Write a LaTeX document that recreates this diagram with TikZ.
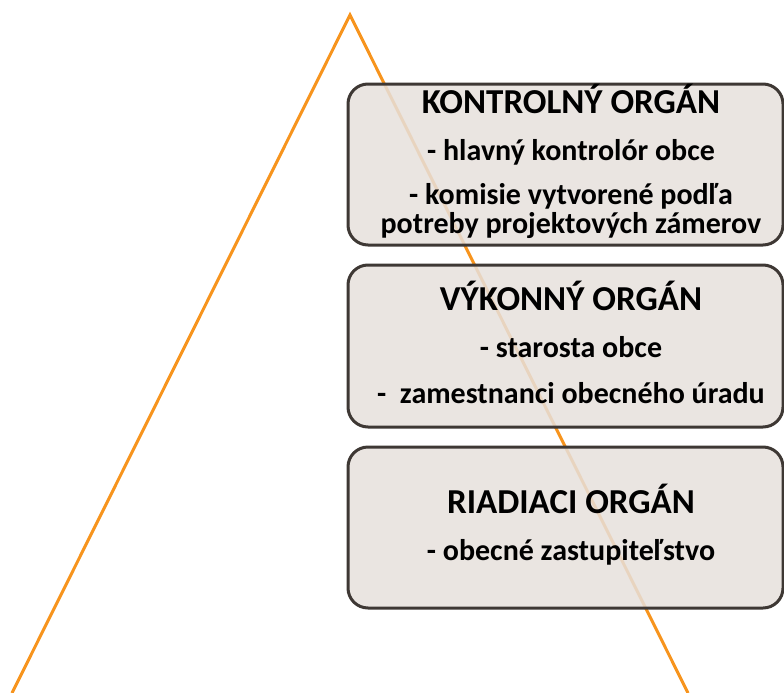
\documentclass[tikz,border=0pt]{standalone}
\usepackage{fontspec}
\setmainfont{Carlito}
\definecolor{orangeline}{RGB}{247,148,29}
\definecolor{boxfill}{RGB}{230,224,220}
\definecolor{boxdraw}{RGB}{62,56,52}
\tikzset{
  tri/.style={draw=orangeline, line width=3pt},
  orgbox/.style={draw=boxdraw, line width=3pt, fill=boxfill, fill opacity=0.85, rounded corners=20pt, minimum width=435pt, inner sep=0pt},
  ttl/.style={anchor=base, font=\bfseries\fontsize{35}{38}\selectfont, inner sep=0pt},
  itm/.style={anchor=base, font=\bfseries\fontsize{30}{32}\selectfont, inner sep=0pt}
}
\begin{document}
\begin{tikzpicture}[x=1pt,y=-1pt]
\useasboundingbox (0,0) rectangle (784,693);
\clip (0,0) rectangle (784,693);
\coordinate (apex) at (350,15);
\coordinate (bl) at (12,693);
\coordinate (br) at (688,693);
\draw[tri] (bl) -- (apex) -- (br);
\node[orgbox, minimum height=161pt] (b1) at (565.5,164.5) {};
\node[orgbox, minimum height=162pt] (b2) at (565.5,346) {};
\node[orgbox, minimum height=161pt] (b3) at (565.5,527.5) {};
\node[ttl] (t1) at (571,113) {KONTROLNÝ ORGÁN};
\node[itm] (t1a) at (571,160) {- hlavný kontrolór obce};
\node[itm] (t1b) at (571,204) {- komisie vytvorené podľa};
\node[itm] (t1c) at (571,233) {potreby projektových zámerov};
\node[ttl] (t2) at (571,310) {VÝKONNÝ ORGÁN};
\node[itm] (t2a) at (571,357) {- starosta obce};
\node[itm] (t2b) at (571,403) {-\ \ zamestnanci obecného úradu};
\node[ttl] (t3) at (571,513) {RIADIACI ORGÁN};
\node[itm] (t3a) at (571,560) {- obecné zastupiteľstvo};
\end{tikzpicture}
\end{document}
